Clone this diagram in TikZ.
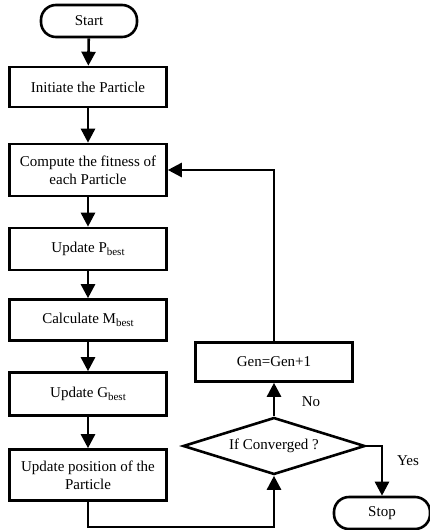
\documentclass[tikz,border=0pt]{standalone}
\usepackage{fontspec}
\setmainfont{Liberation Serif}
\usetikzlibrary{arrows.meta,shapes.geometric}
\newcommand{\sbest}{\raisebox{-0.45ex}{\fontsize{11}{12}\selectfont best}}
\begin{document}
\begin{tikzpicture}[x=1pt,y=-1pt,
  every node/.style={font=\fontsize{15}{18}\selectfont},
  box/.style={draw,line width=2.6pt,rectangle,minimum width=157pt,align=center,inner sep=2pt},
  term/.style={draw,line width=2.6pt,rectangle,rounded corners=15pt,minimum width=96pt,minimum height=32pt},
  dec/.style={draw,line width=2.6pt,diamond,aspect=3.2,minimum width=182pt,minimum height=57pt,inner sep=0pt},
  conn/.style={line width=2.6pt,-{Triangle[length=14pt,width=14pt]}}]
\useasboundingbox (0,0) rectangle (430,530);
\node[term] (start) at (89,21) {Start};
\node[box,minimum height=40pt] (init) at (88,87) {Initiate the Particle};
\node[box,minimum height=52pt] (comp) at (88,170) {Compute the fitness of\\each Particle};
\node[box,minimum height=42pt] (pbest) at (88,249) {Update P\sbest};
\node[box,minimum height=41pt] (mbest) at (88,320) {Calculate M\sbest};
\node[box,minimum height=43pt] (gbest) at (88,394) {Update G\sbest};
\node[box,minimum height=51pt] (upos) at (88,475) {Update position of the\\Particle};
\node[box,minimum height=39pt] (gen) at (274,362) {Gen=Gen+1};
\node[dec] (conv) at (274,446) {If Converged ?};
\node[term] (stop) at (382,513) {Stop};
\node (no) at (311,402) {No};
\node (yes) at (408,461) {Yes};
\coordinate (b1) at (88,527);
\coordinate (b2) at (274,527);
\coordinate (y1) at (382,446);
\coordinate (f1) at (274,170);
\draw[conn] (start) -- (init);
\draw[conn] (init) -- (comp);
\draw[conn] (comp) -- (pbest);
\draw[conn] (pbest) -- (mbest);
\draw[conn] (mbest) -- (gbest);
\draw[conn] (gbest) -- (upos);
\draw[conn] (upos.south) -- (b1) -- (b2) -- (conv.south);
\draw[conn] (conv) -- (gen);
\draw[conn] (gen.north) -- (f1) -- (comp.east);
\draw[conn] (conv.east) -- (y1) -- (stop.north);
\end{tikzpicture}
\end{document}
